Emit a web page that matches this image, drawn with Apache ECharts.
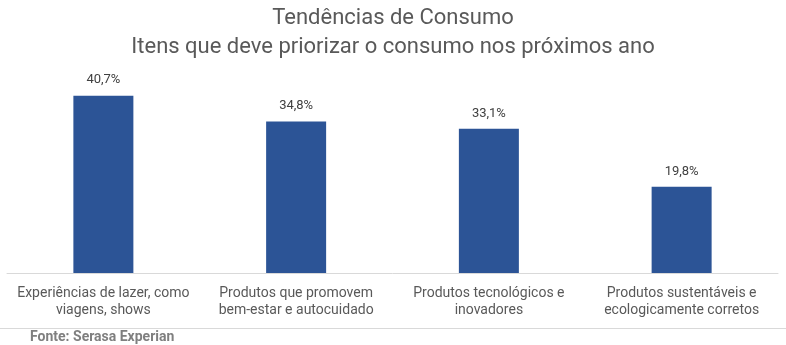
<!DOCTYPE html>
<html>
<head>
<meta charset="utf-8">
<script src="https://cdn.jsdelivr.net/npm/echarts@6/dist/echarts.min.js"></script>
<style>html,body{margin:0;padding:0;background:#fff}#c{width:786px;height:345px}</style>
</head>
<body>
<div id="c"></div>
<script>
const categories = [
  "Experiências de lazer, como\nviagens, shows",
  "Produtos que promovem\nbem-estar e autocuidado",
  "Produtos tecnológicos e\ninovadores",
  "Produtos sustentáveis e\necologicamente corretos"
];
const values = [40.7, 34.8, 33.1, 19.8];
const titleLines = ["Tendências de Consumo", "Itens que deve priorizar o consumo nos próximos ano"];
const sourceText = "Fonte: Serasa Experian";

const chart = echarts.init(document.getElementById('c'), null, {renderer: 'canvas'});
chart.setOption({
  animation: false,
  backgroundColor: '#ffffff',
  title: {
    text: titleLines.join('\n'),
    left: 'center',
    top: -1,
    textStyle: {fontFamily: 'Roboto', fontWeight: 'normal', fontSize: 22, color: '#595959', lineHeight: 29}
  },
  grid: {left: 7, right: 8, top: 77, bottom: 72, containLabel: false},
  xAxis: {
    type: 'category',
    data: categories,
    axisLine: {lineStyle: {color: '#d9d9d9', width: 1}},
    axisTick: {show: false},
    axisLabel: {interval: 0, color: '#595959', fontFamily: 'Roboto', fontSize: 14, lineHeight: 17, margin: 12}
  },
  yAxis: {type: 'value', min: 0, max: 45, show: false, splitLine: {show: false}},
  series: [{
    type: 'bar',
    data: values,
    barWidth: 60,
    itemStyle: {color: '#2c5496'},
    label: {
      show: true, position: 'top', distance: 9,
      color: '#404040', fontFamily: 'Roboto', fontSize: 13,
      formatter: p => p.value.toFixed(1).replace('.', ',') + '%'
    }
  }],
  graphic: [
    {type: 'line', shape: {x1: 0, y1: 328.5, x2: 786, y2: 328.5}, style: {stroke: '#d9d9d9', lineWidth: 1}},
    {type: 'text', left: 30, top: 330, style: {text: sourceText, fill: '#7f7f7f', font: 'bold 14px Roboto'}}
  ]
});
</script>
</body>
</html>
